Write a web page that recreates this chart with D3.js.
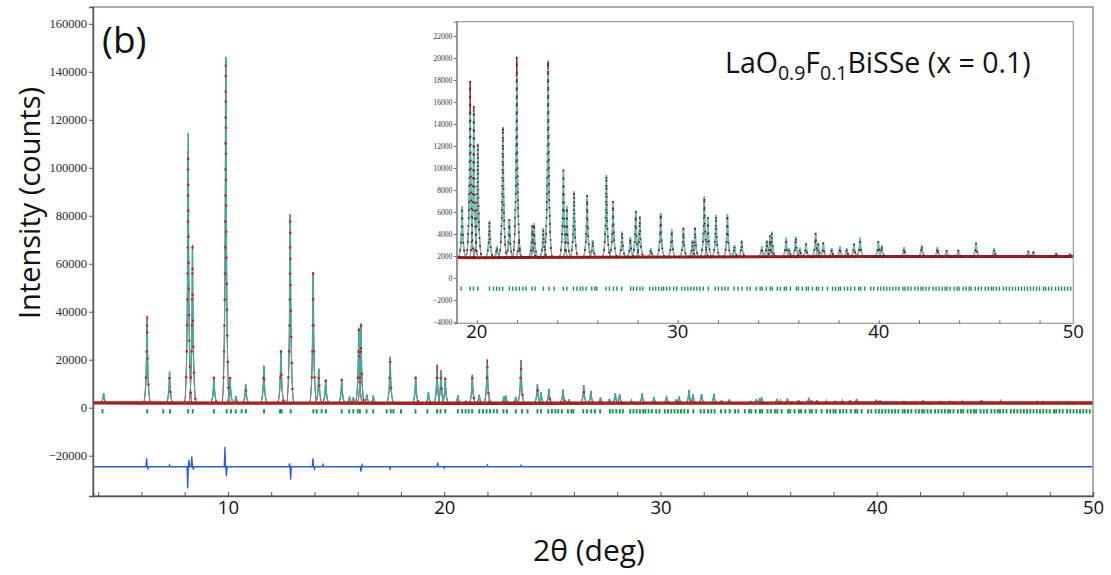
<!DOCTYPE html>
<html>
<head>
<meta charset="utf-8">
<script src="https://cdn.jsdelivr.net/npm/d3@7"></script>
<style>
  body { margin: 0; background: #fff; }
  svg { display: block; }
</style>
</head>
<body>
<div id="chart"></div>
<script>
// background level of the pattern (deg, counts)
const bgX = [3.76, 6, 10, 15, 20, 30, 40, 50];
const bgY = [2000, 1950, 1900, 1900, 1850, 1900, 1950, 1950];

const peakPos = [4.25, 6.26, 7.3, 8.16, 8.36, 9.35, 9.9, 10.1, 10.37, 10.82, 11.66, 12.45, 12.88,
  13.94, 14.2, 14.52, 15.26, 15.62, 15.8, 16.05, 16.15, 16.42, 16.72, 17.5, 18.68, 19.27,
  19.67, 19.85, 20.05, 20.63, 21.0, 21.3, 21.62, 21.99, 22.1, 22.76, 22.85, 23.31, 23.55,
  24.31, 24.48, 24.84, 25.49, 25.77, 26.45, 26.78, 27.23, 27.64, 27.91, 28.11, 28.66, 29.15,
  29.7, 30.28, 30.73, 30.86, 31.32, 31.5, 31.9, 32.47, 32.82, 33.18, 34.18, 34.43, 34.59,
  34.68, 35.39, 35.55, 35.87, 36.08, 36.38, 36.86, 36.99, 37.24, 37.66, 38.07, 38.41, 38.77,
  39.07, 39.98, 40.15, 41.26, 42.14, 42.92, 43.38, 43.96, 44.84, 45.74, 47.44, 47.69, 48.82, 49.5];
const peakObs = [6000, 38300, 15000, 107000, 67800, 12900, 146000, 12500, 4900, 9750, 17500, 24000, 80700,
  56000, 16250, 11800, 12000, 4600, 4400, 33300, 35000, 5500, 5000, 21200, 12900, 6500,
  17900, 15600, 12200, 5200, 2900, 13700, 5350, 20100, 3600, 4800, 5000, 4500, 19750,
  9800, 6500, 7850, 7550, 3450, 9350, 7000, 4200, 3700, 6100, 5600, 2700, 5900,
  4400, 4600, 3450, 4600, 7400, 5500, 5700, 5800, 3000, 3400, 2850, 3450, 3900,
  4200, 3650, 2700, 3750, 2750, 3150, 4100, 3150, 3200, 2700, 2850, 2700, 3150,
  3650, 3300, 3000, 2800, 3000, 2800, 2500, 2550, 3200, 2700, 2450, 2400, 2300, 2250];
const peakCalc = [6000, 36500, 15000, 114500, 66000, 12900, 146000, 12500, 4900, 9750, 17500, 24000, 80700,
  55000, 16250, 11800, 12000, 4600, 4400, 33300, 35000, 5500, 5000, 21200, 12900, 6500,
  15000, 15100, 12000, 5200, 2900, 13400, 5350, 18300, 3600, 4800, 5000, 4500, 19000,
  9800, 6500, 7850, 7550, 3450, 9350, 7000, 4200, 3700, 6100, 5600, 2700, 5900,
  4400, 4600, 3450, 4600, 7400, 5500, 5700, 5800, 3000, 3400, 2850, 3450, 3900,
  4200, 3650, 2700, 3750, 2750, 3150, 4100, 3150, 3200, 2700, 2850, 2700, 3150,
  3650, 3300, 3000, 2800, 3000, 2800, 2500, 2550, 3200, 2700, 2450, 2400, 2300, 2250];

// Bragg reflection markers (deg)
const braggPos = [4.2, 6.27, 7.01, 7.32, 8.16, 8.37, 9.35, 9.94, 10.14, 10.36, 10.63, 10.83, 11.67,
  12.41, 12.48, 12.9, 13.95, 14.1, 14.33, 14.53, 15.26, 15.61, 15.8, 16.0, 16.1, 16.41, 16.72,
  17.34, 17.53, 17.65, 18.0, 18.67, 19.22, 19.67, 19.83, 20.05, 20.63, 20.83, 20.99, 21.13,
  21.29, 21.62, 21.79, 21.96, 22.12, 22.29, 22.45, 22.74, 22.9, 23.31, 23.6, 23.85, 24.31,
  24.48, 24.81, 24.98, 25.14, 25.27, 25.44, 25.72, 25.88, 25.97, 26.43, 26.6, 26.8, 26.97,
  27.21, 27.66, 27.79, 27.96, 28.12, 28.26, 28.6, 28.75, 28.9, 29.05, 29.2, 29.3, 29.45,
  29.6, 29.8, 29.95, 30.2, 30.35, 30.5, 30.65, 30.8, 30.95, 31.1, 31.27, 31.52, 31.86, 32.02,
  32.2, 32.35, 32.5, 32.8, 33.0, 33.2, 33.45, 33.6, 33.9, 34.1, 34.2, 34.4, 34.6, 34.7, 34.95,
  35.1, 35.3, 35.4, 35.6, 35.9, 36.0, 36.2, 36.4, 36.5, 36.7, 36.9, 37.0, 37.2, 37.45, 37.7,
  37.85, 38.0, 38.1, 38.3, 38.45, 38.6, 38.8, 39.0, 39.1, 39.3, 39.6, 39.75, 39.95, 40.1,
  40.25, 40.4, 40.55, 40.7, 40.85, 41.0, 41.2, 41.3, 41.45, 41.6, 41.8, 41.95, 42.1, 42.2,
  42.35, 42.5, 42.7, 42.85, 43.0, 43.15, 43.3, 43.4, 43.55, 43.75, 43.9, 44.0, 44.2, 44.35,
  44.5, 44.6, 44.8, 44.95, 45.1, 45.3, 45.45, 45.6, 45.7, 45.85, 46.0, 46.2, 46.35, 46.5,
  46.65, 46.8, 46.95, 47.1, 47.25, 47.4, 47.55, 47.7, 47.85, 48.0, 48.2, 48.3, 48.45, 48.6,
  48.8, 48.95, 49.1, 49.25, 49.4, 49.55, 49.7, 49.85];

// difference curve (obs - calc): offset and spikes
const diffOffset = -24600;
const diffPos = [6.24, 6.3, 7.3, 8.14, 8.2, 8.33, 8.4, 9.86, 9.93, 12.85, 12.9, 13.93, 14.0,
  14.4, 16.15, 16.2, 17.5, 19.7, 20.0, 22.0, 23.55];
const diffVal = [3500, -800, 700, -9000, 3000, 4200, -1200, 8300, -3900, 1400, -5300, 3500, -900,
  900, -2100, 800, -900, 1700, -600, 700, 600];

// axes
const xTicksMain = d3.range(4, 51, 2);
const xLabelsMain = [10, 20, 30, 40, 50];
const yTicksMain = d3.range(-20000, 160001, 20000);
const xTicksInset = d3.range(20, 49, 2);
const xLabelsInset = [20, 30, 40, 50];
const yTicksInset = d3.range(-4000, 22001, 2000);

const W = 1111, H = 575;
const svg = d3.select("#chart").append("svg").attr("width", W).attr("height", H);

const bg = d3.scaleLinear().domain(bgX).range(bgY);

function peakPath(x, y, pos, top, hw) {
  const p = d3.path();
  const xc = x(pos), yb = y(bg(pos)), yt = y(top);
  p.moveTo(x(pos - hw), yb);
  p.quadraticCurveTo(xc - 0.5, yb, xc, yt);
  p.quadraticCurveTo(xc + 0.5, yb, x(pos + hw), yb);
  return p.toString();
}

function drawPattern(g, x, y, o) {
  const idx = d3.range(peakPos.length);
  // observed, solid under the fit
  g.append("g").selectAll("path").data(idx).join("path")
    .attr("d", i => peakPath(x, y, peakPos[i], peakObs[i], o.hw))
    .attr("fill", "none").attr("stroke", o.red).attr("stroke-width", 1);
  // calculated
  g.append("g").selectAll("path").data(idx).join("path")
    .attr("d", i => peakPath(x, y, peakPos[i], peakCalc[i], o.hw))
    .attr("fill", "none").attr("stroke", o.calc).attr("stroke-width", o.calcW);
  // observed background band
  g.append("path")
    .attr("d", d3.line().x(d => x(d)).y(d => y(bg(d)))(bgX))
    .attr("fill", "none").attr("stroke", o.red).attr("stroke-width", o.bandW);
  // observed points as dots
  g.append("g").selectAll("path").data(idx).join("path")
    .attr("d", i => peakPath(x, y, peakPos[i], peakObs[i], o.hw))
    .attr("fill", "none").attr("stroke", o.dot).attr("stroke-width", o.dotW)
    .attr("stroke-linecap", "round").attr("stroke-dasharray", o.dash);
  // Bragg markers
  g.append("g").selectAll("rect").data(braggPos).join("rect")
    .attr("x", d => x(d) - o.braggW / 2).attr("width", o.braggW)
    .attr("y", y(o.braggTop)).attr("height", y(o.braggBot) - y(o.braggTop))
    .attr("fill", "#14994a");
}

// ---------- main plot ----------
const m = { left: 93, right: 1093, top: 7, bottom: 496 };
const x = d3.scaleLinear().domain([3.76, 50]).range([m.left, m.right]);
const y = d3.scaleLinear().domain([-36800, 167000]).range([m.bottom, m.top]);

svg.append("clipPath").attr("id", "clipMain").append("rect")
  .attr("x", m.left).attr("y", m.top).attr("width", m.right - m.left).attr("height", m.bottom - m.top);

const main = svg.append("g").attr("clip-path", "url(#clipMain)");

// difference curve
const diffPts = [[x.domain()[0], 0]];
diffPos.forEach((p, i) => {
  diffPts.push([p - 0.03, 0], [p, diffVal[i]], [p + 0.03, 0]);
});
diffPts.push([x.domain()[1], 0]);
main.append("path")
  .attr("d", d3.line().x(d => x(d[0])).y(d => y(diffOffset + d[1]))(diffPts))
  .attr("fill", "none").attr("stroke", "#2b5ce0").attr("stroke-width", 1.3);

drawPattern(main, x, y, {
  hw: 0.18, red: "#a81c1c", dot: "#c0281e", calc: "#45a79f", calcW: 1.7, bandW: 3.4,
  dotW: 2.6, dash: "0 26", braggTop: -600, braggBot: -2400, braggW: 1.9
});

// frame
svg.append("rect").attr("x", m.left).attr("y", m.top)
  .attr("width", m.right - m.left).attr("height", m.bottom - m.top)
  .attr("fill", "none").attr("stroke", "#8c8c8c").attr("stroke-width", 1.4);

const xAxis = svg.append("g").attr("transform", `translate(0,${m.bottom})`)
  .call(d3.axisBottom(x).tickValues(xTicksMain).tickSize(-4).tickPadding(5)
    .tickFormat(d => xLabelsMain.includes(d) ? d : ""));
xAxis.select(".domain").attr("stroke", "#555").attr("stroke-width", 1.4);
xAxis.selectAll(".tick line").attr("stroke", "#555");
xAxis.selectAll("text").attr("font-family", "Open Sans").attr("font-size", 18.5).attr("fill", "#111");

const yAxis = svg.append("g").attr("transform", `translate(${m.left},0)`)
  .call(d3.axisLeft(y).tickValues(yTicksMain).tickSize(4).tickPadding(2).tickFormat(d3.format("d")));
yAxis.select(".domain").attr("stroke", "#555").attr("stroke-width", 1.4);
yAxis.selectAll(".tick line").attr("stroke", "#555");
yAxis.selectAll("text").attr("font-family", "Liberation Serif").attr("font-size", 12.5).attr("fill", "#2a2a2a");

svg.append("text").attr("x", 102).attr("y", 53)
  .attr("font-family", "Open Sans").attr("font-size", 37).attr("fill", "#111").text("(b)");

svg.append("text").attr("transform", "translate(40,203) rotate(-90)")
  .attr("text-anchor", "middle").attr("font-family", "Open Sans").attr("font-size", 29)
  .attr("fill", "#111").text("Intensity (counts)");

svg.append("text").attr("x", 589).attr("y", 561).attr("text-anchor", "middle")
  .attr("font-family", "Open Sans").attr("font-size", 30).attr("fill", "#111").text("2θ (deg)");

// ---------- inset ----------
const n = { left: 456.7, right: 1073.3, top: 21.7, bottom: 323.3 };
const xi = d3.scaleLinear().domain([19.0, 49.68]).range([n.left, n.right]);
const yi = d3.scaleLinear().domain([-4120, 23300]).range([n.bottom, n.top]);

svg.append("rect").attr("x", n.left).attr("y", n.top)
  .attr("width", n.right - n.left).attr("height", n.bottom - n.top).attr("fill", "#fff");

svg.append("clipPath").attr("id", "clipInset").append("rect")
  .attr("x", n.left).attr("y", n.top).attr("width", n.right - n.left).attr("height", n.bottom - n.top);
const inset = svg.append("g").attr("clip-path", "url(#clipInset)");

drawPattern(inset, xi, yi, {
  hw: 0.22, red: "#9a1c1c", dot: "#6e1414", calc: "#6cc0b8", calcW: 2, bandW: 3,
  dotW: 1.9, dash: "0 8", braggTop: -780, braggBot: -1160, braggW: 1.4
});

svg.append("rect").attr("x", n.left).attr("y", n.top)
  .attr("width", n.right - n.left).attr("height", n.bottom - n.top)
  .attr("fill", "none").attr("stroke", "#9a9a9a").attr("stroke-width", 1.2);

const xiAxis = svg.append("g").attr("transform", `translate(0,${n.bottom})`)
  .call(d3.axisBottom(xi).tickValues(xTicksInset).tickSize(-3).tickFormat(""));
xiAxis.select(".domain").remove();
xiAxis.selectAll(".tick line").attr("stroke", "#666");

const xiClamp = xi.copy().clamp(true);
svg.append("g").selectAll("text").data(xLabelsInset).join("text")
  .attr("x", d => xiClamp(d)).attr("y", 338).attr("text-anchor", "middle")
  .attr("font-family", "Open Sans").attr("font-size", 18.5).attr("fill", "#111").text(d => d);

const yiAxis = svg.append("g").attr("transform", `translate(${n.left},0)`)
  .call(d3.axisLeft(yi).tickValues(yTicksInset).tickSize(3).tickPadding(1.5).tickFormat(d3.format("d")));
yiAxis.select(".domain").attr("stroke", "#777");
yiAxis.selectAll(".tick line").attr("stroke", "#777");
yiAxis.selectAll("text").attr("font-family", "Liberation Serif").attr("font-size", 7.5).attr("fill", "#333");

const title = svg.append("text").attr("x", 725).attr("y", 73)
  .attr("font-family", "Open Sans").attr("font-size", 28.5).attr("fill", "#111");
title.append("tspan").text("LaO");
title.append("tspan").attr("dy", 7).attr("font-size", 19.5).text("0.9");
title.append("tspan").attr("dy", -7).text("F");
title.append("tspan").attr("dy", 7).attr("font-size", 19.5).text("0.1");
title.append("tspan").attr("dy", -7).text("BiSSe (x = 0.1)");
</script>
</body>
</html>
